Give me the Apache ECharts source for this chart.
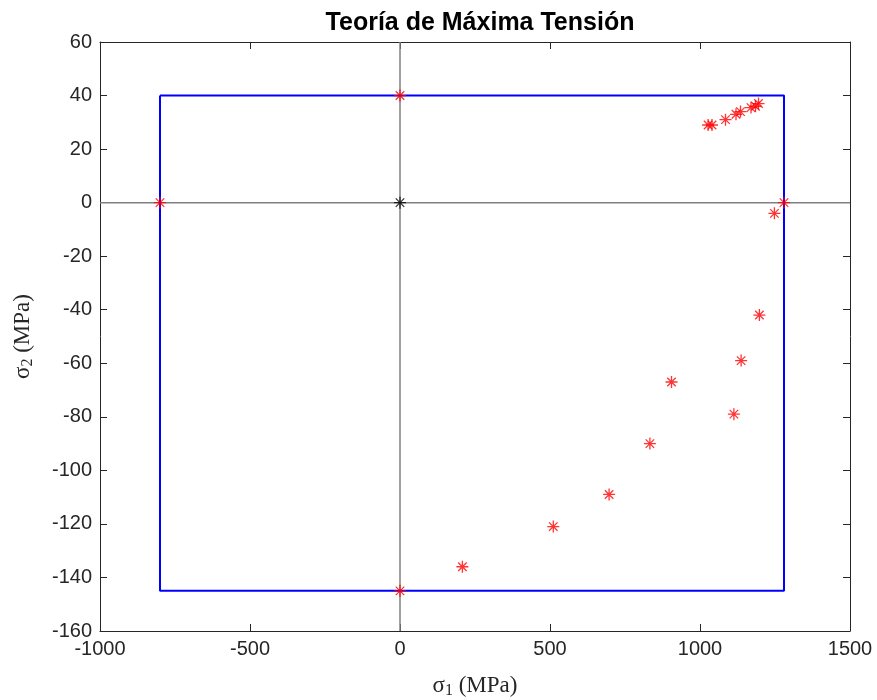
<!DOCTYPE html>
<html><head><meta charset="utf-8">
<script src="https://cdn.jsdelivr.net/npm/echarts@6/dist/echarts.min.js"></script>
<style>html,body{margin:0;padding:0;background:#fff}#c{width:877px;height:700px}</style>
</head><body><div id="c"></div>
<script>
// Data
const titleText = 'Teoría de Máxima Tensión';
const boxSigma1 = [-800, 1280, 1280, -800, -800];
const boxSigma2 = [40, 40, -145, -145, 40];
const pointsSigma1 = [-800, 0, 0, 1280, 1027, 1040, 1085, 1120, 1135, 1170, 1185, 1195, 1248, 1198, 1137, 905, 1113, 833, 697, 511, 208];
const pointsSigma2 = [0, 40, -145, 0, 29, 29, 31, 33, 34, 35.5, 36, 37, -4, -42, -59, -67, -79, -90, -109, -121, -136];
const originSigma1 = [0];
const originSigma2 = [0];
const xTicks = [-1000, -500, 0, 500, 1000, 1500];
const yTicks = [-160, -140, -120, -100, -80, -60, -40, -20, 0, 20, 40, 60];

const star = 'path://M0,-5L0,5M-5,0L5,0M-3.54,-3.54L3.54,3.54M-3.54,3.54L3.54,-3.54';
const zip = (a, b) => a.map((v, i) => [v, b[i]]);
const xMin = xTicks[0], xMax = xTicks[xTicks.length - 1];
const yMin = yTicks[0], yMax = yTicks[yTicks.length - 1];
const fmt = v => String(v);
const tickFont = {fontFamily: 'Liberation Sans', fontSize: 20, color: '#262626', formatter: fmt};
const axCommon = {
  axisLine: {show: true, onZero: false, lineStyle: {color: '#262626', width: 1}},
  axisTick: {show: true, inside: true, length: 7, lineStyle: {color: '#262626'}},
  splitLine: {show: false}
};
const serifRich = {
  a: {fontFamily: 'Liberation Serif', fontSize: 23, color: '#262626'},
  b: {fontFamily: 'Liberation Serif', fontSize: 16, color: '#262626', padding: [10, 0, 0, 0]}
};

const chart = echarts.init(document.getElementById('c'), null, {renderer: 'canvas'});
chart.setOption({
  animation: false,
  backgroundColor: '#fff',
  title: {
    text: titleText, left: 475, top: 6, textAlign: 'center',
    textStyle: {fontFamily: 'Liberation Sans', fontWeight: 'bold', fontSize: 25, color: '#000'}
  },
  grid: {left: 100, right: 27, top: 42, bottom: 69, containLabel: false, outerBoundsMode: 'none'},
  xAxis: [
    Object.assign({type: 'value', min: xMin, max: xMax, interval: 500, position: 'bottom',
      axisLabel: Object.assign({margin: 8}, tickFont),
      name: '{a|σ}{b|1}{a| (MPa)}', nameLocation: 'middle', nameGap: 42,
      nameTextStyle: {rich: serifRich}}, axCommon),
    Object.assign({type: 'value', min: xMin, max: xMax, interval: 500, position: 'top',
      axisLabel: {show: false}}, axCommon)
  ],
  yAxis: [
    Object.assign({type: 'value', min: yMin, max: yMax, interval: 20, position: 'left',
      axisLabel: Object.assign({margin: 8}, tickFont),
      name: '{a|σ}{b|2}{a| (MPa)}', nameLocation: 'middle', nameGap: 64, nameRotate: 90,
      nameTextStyle: {rich: serifRich}}, axCommon),
    Object.assign({type: 'value', min: yMin, max: yMax, interval: 20, position: 'right',
      axisLabel: {show: false}}, axCommon)
  ],
  series: [
    {type: 'line', data: [[xMin, 0], [xMax, 0]], symbol: 'none', silent: true,
      lineStyle: {color: '#808080', width: 1.5}, z: 1},
    {type: 'line', data: [[0, yMin], [0, yMax]], symbol: 'none', silent: true,
      lineStyle: {color: '#808080', width: 1.5}, z: 1},
    {type: 'line', data: zip(boxSigma1, boxSigma2), symbol: 'none',
      lineStyle: {color: '#0000ff', width: 2}, z: 2},
    {type: 'scatter', data: zip(originSigma1, originSigma2), symbol: star, symbolSize: 12,
      itemStyle: {color: 'rgba(0,0,0,0)', borderColor: '#000', borderWidth: 1.3}, z: 3},
    {type: 'scatter', data: zip(pointsSigma1, pointsSigma2), symbol: star, symbolSize: 12,
      itemStyle: {color: 'rgba(0,0,0,0)', borderColor: '#ff0000', borderWidth: 1.3}, z: 4}
  ]
});
</script></body></html>
